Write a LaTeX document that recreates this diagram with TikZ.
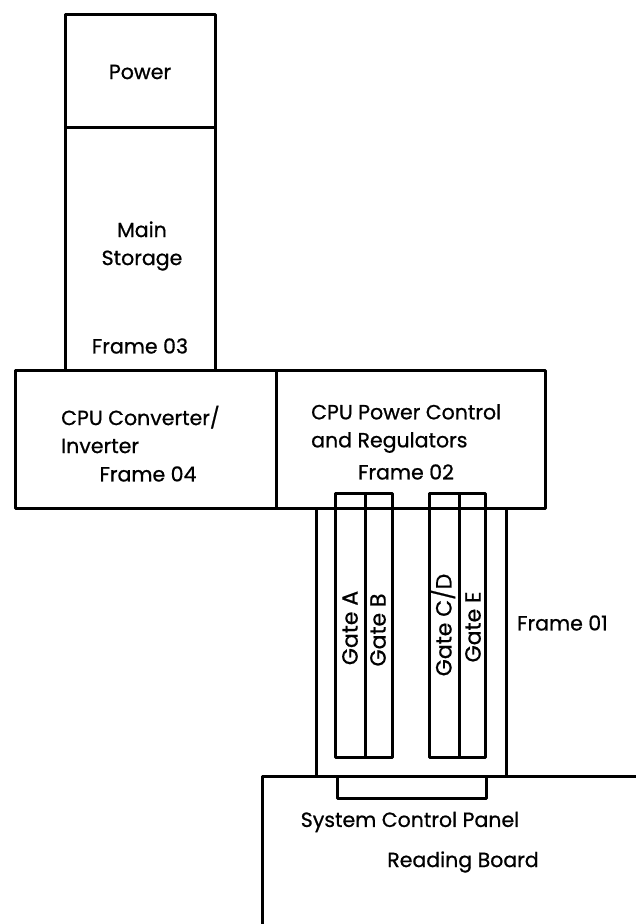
\documentclass[tikz,border=0pt]{standalone}
\usepackage{fontspec}
\setmainfont{Poppins}[FakeBold=0.8]
\usetikzlibrary{positioning}

\begin{document}
\begin{tikzpicture}[
  x=1pt, y=-1pt,
  font=\fontsize{20.5}{28}\selectfont,
  every node/.style={inner sep=0pt},
  unit/.style={draw, line width=3pt, line join=round},
  label/.style={align=left},
  gate/.style={rotate=90, font=\fontsize{22}{28}\selectfont}
]
\useasboundingbox (0,0) rectangle (636,924);

% frame 03
\node[unit, minimum width=150pt, minimum height=113pt] (power) at (140,70.5) {};
\node[unit, minimum width=150pt, minimum height=243pt] (storage) at (140,248.5) {};
\node (powert) at (140,72) {Power};
\node[align=center] (storaget) at (142,246) {Main\\Storage};
\node (f03) at (140,346) {Frame 03};

% frames 04 and 02
\node[unit, minimum width=261pt, minimum height=138pt] (conv) at (145.5,439) {};
\node[unit, minimum width=269pt, minimum height=138pt] (ctrl) at (410.5,439) {};
\node[label, anchor=west] (convt) at (61,429.5) {CPU Converter/\\Inverter};
\node (f04) at (148,474) {Frame 04};
\node[label, anchor=west] (ctrlt) at (311,428.5) {CPU Power Control\\and Regulators};
\node (f02) at (406,472) {Frame 02};

% frame 01
\node[unit, minimum width=190pt, minimum height=268pt] (cpu) at (411,642) {};
\node[unit, minimum width=57pt, minimum height=264pt] (gab) at (363.5,625) {};
\node[unit, minimum width=56pt, minimum height=264pt] (gcde) at (457,625) {};
\draw[unit] (365,493) -- (365,757);
\draw[unit] (459,493) -- (459,757);
\node[gate] (ga) at (350,628) {Gate A};
\node[gate] (gb) at (378,630) {Gate B};
\node[gate] (gcd) at (443,625) {Gate C/D};
\node[gate] (ge) at (473,627) {Gate E};
\node[anchor=west] (f01) at (517,623) {Frame 01};

% reading board and panel
\coordinate (bd) at (262,776);
\draw[unit] (262,924) -- (bd) -- (636,776);
\node[unit, minimum width=149pt, minimum height=22pt] (scp) at (411.5,787) {};
\node (scpt) at (410,822) {System Control Panel};
\node (rbt) at (463,862) {Reading Board};
\end{tikzpicture}
\end{document}
